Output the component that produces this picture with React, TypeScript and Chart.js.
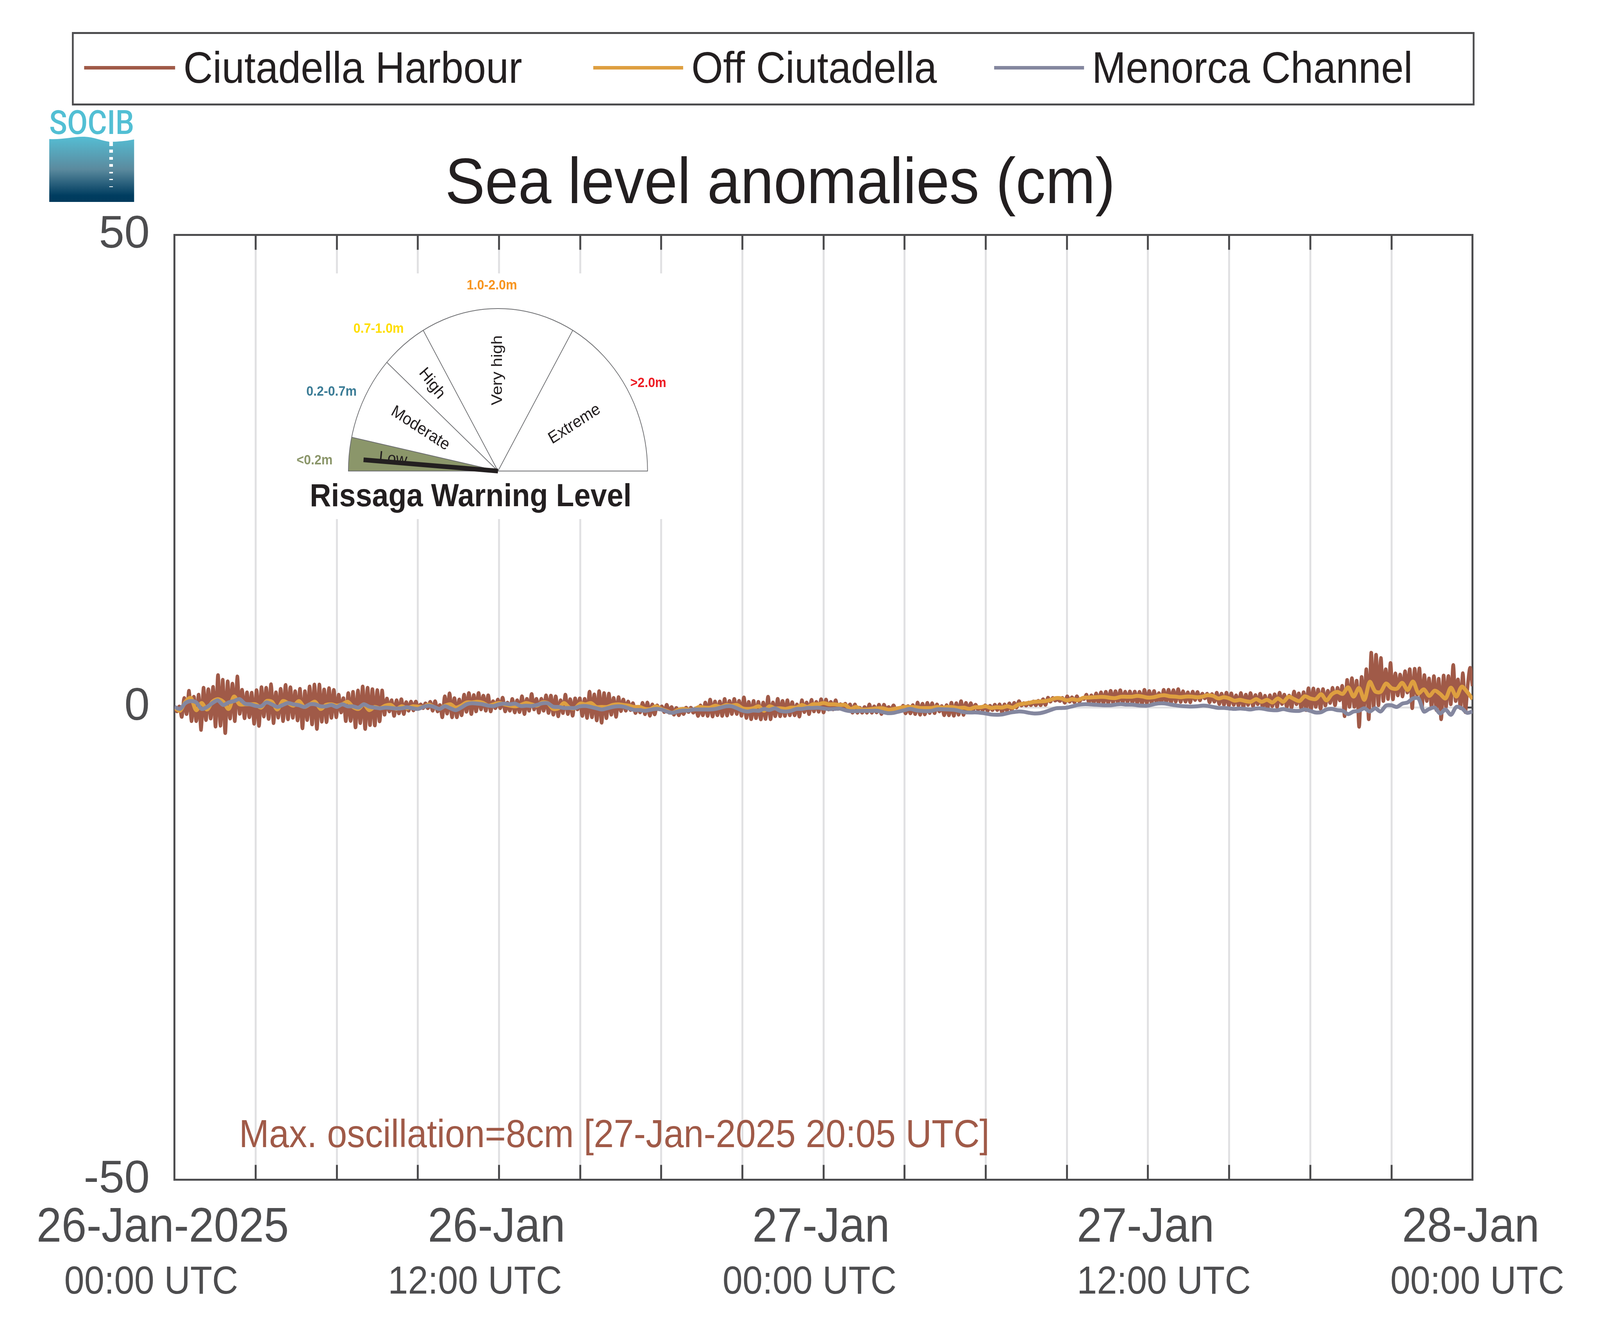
import { useEffect, useRef } from "react";
import { Chart, registerables } from "chart.js";

Chart.register(...registerables);

// hours since 26-Jan-2025 00:00 UTC
const timeTicks = [0, 12, 24, 36, 48];
const dateLabels = ["26-Jan-2025", "26-Jan", "27-Jan", "27-Jan", "28-Jan"];
const hourLabels = ["00:00 UTC", "12:00 UTC", "00:00 UTC", "12:00 UTC", "00:00 UTC"];
const seriesNames = ["Ciutadella Harbour", "Off Ciutadella", "Menorca Channel"];
const seriesColors = ["#a05a48", "#de9f40", "#84879f"];

// crests and troughs of the harbour oscillation, cm
const harbourPeaks = [
  0.1, 0.1, 1.0, 1.76, 1.14, 1.35, 2.08, 1.93, 2.18, 3.42, 2.93, 2.75, 2.52, 3.28, 1.87, 1.6, 1.56, 1.83, 2.14, 2.08, 2.45, 1.6, 1.97, 2.38, 2.14, 1.72, 1.97, 1.72, 2.22, 2.42, 2.42, 1.9, 2.04, 1.86, 1.35, 0.98, 1.52, 1.65, 1.79, 2.22, 2.08, 1.93, 1.83, 1.8, 0.94, 0.76, 0.76, 0.87, 0.56, 0.62, 0.62, 0.32, 0.43, 0.59, 0.66, 0.25, 1.17, 1.49, 0.98, 0.84, 1.35, 1.52, 1.31, 1.52, 1.25, 1.28, 0.66, 0.84, 1.03, 0.52, 0.9, 0.76, 1.18, 0.91,
  1.42, 0.91, 0.91, 1.28, 1.25, 1.17, 0.76, 1.35, 0.87, 0.96, 0.96, 0.91, 1.67, 1.38, 1.72, 1.52, 1.46, 1.01, 1.09, 0.84, 0.63, 0.45, 0.04, 0.48, 0.52, 0.32, 0.21, 0.11, 0.28, 0.04, -0.05, -0.19, -0.03, -0.03, -0.1, 0.22, 0.52, 0.83, 0.63, 0.63, 0.9, 0.69, 0.9, 0.7, 1.06, 0.59, 0.69, 0.59, 0.52, 1.14, 0.52, 0.91, 0.69, 0.76, 0.56, 0.32, 0.76, 0.52, 0.8, 0.59, 0.87, 0.83, 0.59, 0.76, 0.34, 0.39, 0.32, 0.32, -0.03, 0.04, 0.32, 0.11, 0.29, 0.28, 0.04,
  0.22, -0.07, 0.18, 0.14, 0.25, 0.52, 0.39, 0.48, 0.45, 0.32, 0.14, 0.25, 0.5, 0.45, 0.66, 0.48, 0.45, 0.29, 0.04, 0.22, 0.18, 0.29, 0.32, 0.32, 0.43, 0.48, 0.66, 0.45, 0.52, 0.63, 0.7, 0.87, 1.03, 1.01, 0.87, 1.01, 1.17, 1.07, 1.18, 0.94, 1.35, 1.28, 1.49, 1.6, 1.65, 1.76, 1.72, 1.82, 1.67, 1.69, 1.67, 1.65, 1.86, 1.74, 1.74, 1.52, 1.86, 1.87, 1.83, 1.93, 1.72, 1.6, 1.67, 1.63, 1.45, 1.45, 1.42, 1.56, 1.46, 1.56, 1.49, 1.28, 1.52,
  1.35, 1.52, 1.31, 1.45, 1.24, 1.28, 1.39, 1.56, 1.35, 1.25, 1.68, 1.49, 1.61, 2.04, 2.01, 1.9, 1.94, 1.76, 2.07, 2.07, 2.27, 2.91, 3.1, 2.82, 3.21, 4.04, 5.79, 5.58, 5.23, 4.04, 4.7, 3.6, 3.48, 3.83, 4.04, 4.08, 4.13, 3.42, 3.07, 3.31, 3.03, 3.37, 3.32, 4.49, 2.96, 3.62, 2.31, 4.2, 2.25,
];
const harbourTroughs = [
  -0.44, -1.02, -0.72, -1.47, -1.47, -2.4, -1.36, -1.2, -2.05, -1.96, -2.74, -1.2, -1.47, -0.69, -1.17, -1.06, -1.75, -1.98, -0.99, -1.24, -1.68, -1.1, -1.47, -1.28, -1.12, -1.4, -2.23, -1.36, -1.82, -2.3, -1.53, -1.58, -1.12, -1.06, -0.55, -1.47, -1.45, -2.13, -1.68, -2.3, -1.89, -1.93, -1.5, -0.79, -0.44, -0.92, -0.65, -0.72, -0.37, -0.34, -0.17, -0.1, -0.1, -0.37, -0.44, -1.06, -0.67, -1.06, -1.06, -0.85, -0.48, -0.72, -0.44, -0.23, -0.37, -0.44, -0.1, -0.1, -0.44, -0.37, -0.55, -0.51, -0.72,
  -0.37, -0.23, -0.58, -0.37, -0.61, -0.79, -0.96, -0.62, -0.72, -0.9, -0.23, -0.92, -1.13, -1.06, -1.4, -1.64, -1.16, -0.79, -1.02, -0.41, -0.37, -0.3, -0.61, -0.54, -0.74, -0.9, -0.76, -0.23, -0.51, -0.58, -0.79, -0.85, -0.72, -0.51, -0.58, -0.92, -0.85, -0.92, -0.98, -0.85, -0.92, -0.88, -0.72, -0.72, -0.9, -1.13, -1.27, -1.16, -1.29, -1.24, -1.27, -0.95, -0.95, -0.92, -0.85, -0.85, -0.99, -0.51, -0.73, -0.44, -0.48, -0.55, -0.23, -0.23, -0.17, -0.23, -0.23, -0.58, -0.58, -0.58, -0.58, -0.58, -0.55, -0.72,
  -0.23, -0.3, -0.3, -0.37, -0.65, -0.65, -0.72, -0.79, -0.76, -0.62, -0.62, -0.44, -0.85, -0.85, -0.9, -0.79, -0.81, -0.51, -0.3, -0.26, -0.3, -0.37, -0.3, -0.3, -0.54, -0.37, -0.3, -0.03, 0.18, 0.18, 0.22, 0.21, 0.22, 0.25, 0.59, 0.7, 0.66, 0.48, 0.59, 0.52, 0.59, 0.87, 0.52, 0.48, 0.45, 0.43, 0.43, 0.48, 0.48, 0.48, 0.56, 0.45, 0.45, 0.32, 0.41, 0.45, 0.52, 0.52, 0.52, 0.48, 0.59, 0.56, 0.59, 0.52, 0.76, 0.73, 0.94, 0.52, 0.59, 0.34, 0.25, 0.18, 0.25,
  0.18, -0.03, 0.25, 0.11, 0.32, -0.03, -0.17, 0.11, 0.04, 0.34, 0.04, -0.03, 0.32, -0.1, -0.3, -0.3, 0.04, -0.17, 0.18, 0.45, 0.21, 0.73, -0.95, 0.04, 0.04, -2.07, -0.1, -1.27, 0.04, 0.21, 0.66, 0.87, 0.84, 1.25, 1.14, 1.56, -0.1, 1.28, -0.1, 0.66, 0.04, -0.3, -1.27, 0.04, 0.32, 0.66, -0.1, -0.51,
];
// one reading every 0.2 h, cm
const offCiutadellaValues = [
  -0.03, -0.37, 0.59, 1.0, -0.3, 0.45, -0.23, 0.59, 0.87, 0.59, -0.17, 1.14, 0.32, 0.32, 0.32, 0.32, -0.03, 0.66, 0.59, -0.23, 0.66, 0.45, 0.18, 0.66, 0.04, 0.32, 0.59, -0.17, 0.25, 0.32, 0.18, 0.32, 0.59, 0.04, -0.17, 0.32, -0.3, 0.04, -0.1, 0.18, 0.25, -0.17, 0.11, -0.1, 0.11, 0.07, 0.04, 0.29, 0.04, -0.17, 0.18, 0.32, -0.03, 0.18, 0.52, 0.52, 0.59, 0.48, 0.18, 0.32, 0.45, 0.32, 0.18, 0.11, 0.25,
  0.45, 0.32, 0.18, 0.52, 0.45, -0.17, -0.1, 0.45, -0.03, -0.1, 0.39, 0.32, 0.45, 0.04, 0.04, 0.04, 0.25, 0.32, 0.25, 0.18, 0.04, 0.04, -0.17, -0.17, 0.11, -0.17, -0.37, -0.58, -0.3, -0.17, -0.23, -0.23, 0.04, -0.03, -0.03, 0.18, 0.04, 0.25, 0.18, 0.25, -0.1, -0.17, -0.1, 0.11, -0.37, 0.11, -0.1, -0.1, -0.17, -0.03, -0.03, 0.25, 0.04, 0.32, 0.32, 0.45, 0.32, 0.32, 0.25, 0.25, -0.17, 0.04, -0.23, -0.23, -0.17, -0.1,
  -0.1, -0.26, -0.17, -0.07, 0.04, 0.04, 0.01, -0.07, -0.07, -0.07, 0.04, -0.03, 0.04, 0.01, -0.07, -0.03, -0.17, 0.01, 0.01, 0.11, -0.07, 0.01, -0.03, 0.11, -0.03, 0.29, 0.39, 0.48, 0.59, 0.62, 0.66, 0.8, 0.98, 0.94, 0.73, 0.87, 0.76, 1.01, 1.03, 1.07, 1.1, 1.1, 1.01, 0.98, 1.12, 1.12, 1.12, 1.21, 1.14, 1.03, 1.07, 1.21, 1.28, 1.17, 1.14, 1.07, 1.14, 1.14, 1.07, 1.12, 1.28, 1.21, 0.94, 1.07, 0.94, 0.7, 0.8,
  0.66, 0.59, 0.87, 0.59, 0.8, 0.52, 0.94, 0.59, 1.12, 0.87, 0.66, 1.17, 0.94, 0.87, 1.39, 0.73, 1.39, 1.63, 1.42, 2.11, 1.14, 2.04, 0.8, 2.69, 1.69, 1.63, 2.52, 2.04, 1.97, 2.59, 1.83, 2.73, 1.49, 1.9, 1.21, 1.76, 1.42, 0.94, 2.08, 1.14, 2.18, 1.63, 0.87,
];
const menorcaValues = [
  0.04, -0.17, 0.45, 0.66, 0.52, -0.17, 0.04, 0.45, 0.73, 0.25, 0.52, 0.66, 0.87, 0.39, 0.32, 0.15, 0.11, 0.52, 0.32, 0.04, 0.25, 0.45, 0.32, 0.22, 0.04, 0.32, 0.32, 0.11, 0.11, 0.25, 0.04, 0.32, 0.11, 0.11, -0.03, 0.32, 0.07, -0.03, -0.1, -0.03, -0.07, -0.12, -0.1, 0, -0.1, -0.17, 0.04, 0.18, 0.04, -0.17, 0.11, -0.1, -0.3, -0.03, 0.32, 0.43, 0.39, 0.32, 0.18, 0.14, 0.32, 0.39, 0.32, 0.39, 0.14,
  0.18, 0.14, 0.25, 0.43, 0.43, 0.07, 0.04, -0.07, -0.07, -0.07, 0.11, 0.14, 0.04, -0.1, -0.23, -0.1, 0.04, 0.11, 0.07, -0.1, -0.28, -0.28, -0.37, -0.26, -0.17, -0.23, -0.44, -0.58, -0.44, -0.34, -0.34, -0.23, -0.23, -0.23, -0.23, -0.17, -0.03, 0.11, 0.11, -0.1, -0.34, -0.44, -0.34, -0.37, -0.17, -0.28, -0.1, -0.37, -0.44, -0.37, -0.17, -0.17, -0.07, -0.07, -0.04, -0.12, -0.19, -0.17, -0.14, -0.3, -0.4, -0.4, -0.37, -0.37, -0.37, -0.37,
  -0.51, -0.62, -0.58, -0.44, -0.3, -0.17, -0.3, -0.37, -0.4, -0.37, -0.21, -0.21, -0.23, -0.26, -0.37, -0.51, -0.55, -0.54, -0.58, -0.65, -0.76, -0.79, -0.76, -0.62, -0.51, -0.44, -0.47, -0.58, -0.65, -0.62, -0.48, -0.28, -0.1, -0.07, -0.03, 0.11, 0.25, 0.32, 0.32, 0.28, 0.25, 0.22, 0.22, 0.29, 0.34, 0.29, 0.29, 0.22, 0.18, 0.18, 0.32, 0.41, 0.41, 0.32, 0.22, 0.15, 0.11, 0.08, 0.11, 0.18, 0.15, 0.04, -0.06, -0.06, -0.12, -0.17, -0.12,
  -0.17, -0.23, -0.12, -0.12, -0.23, -0.3, -0.3, -0.19, -0.3, -0.37, -0.37, -0.23, -0.37, -0.55, -0.51, -0.23, -0.17, -0.3, -0.37, -0.72, -0.44, -0.37, -0.1, -0.44, -0.1, -0.44, 0.18, 0.22, 0.04, 0.39, 0.52, 0.94, 0.94, -0.44, -0.17, -0.03, -0.65, -0.23, -0.79, 0.04, -0.1, -0.58, -0.44,
];

// warning gauge: sector limits in degrees from the left, current needle reading
const gaugeLimits = [0, 12, 42, 60, 120, 180];
const gaugeNeedle = 4.4;
const maxOscillation = "Max. oscillation=8cm [27-Jan-2025 20:05 UTC]";

const SANS = '"Liberation Sans", Arial, sans-serif';
const INK = "#231f20";
const AXIS = "#4d4d4f";
const SPAN = 48;
const DESIGN_W = 4450; // the layout below is in reference pixels, squeezed to fit the window

const byIndex = (values: number[]) =>
  values.map((y, i) => ({ x: (i * SPAN) / (values.length - 1), y }));

const harbourSeries = harbourPeaks.flatMap((p, i) =>
  harbourTroughs[i] === undefined ? [p] : [p, harbourTroughs[i]],
);

const put = (ctx: CanvasRenderingContext2D, text: string, x: number, y: number, font: string, color: string, align: CanvasTextAlign = "left") => {
  ctx.font = font;
  ctx.fillStyle = color;
  ctx.textAlign = align;
  ctx.textBaseline = "alphabetic";
  ctx.fillText(text, x, y);
};

const tilted = (ctx: CanvasRenderingContext2D, text: string, x: number, y: number, deg: number) => {
  ctx.save();
  ctx.translate(x, y);
  ctx.rotate((deg * Math.PI) / 180);
  ctx.font = `43px ${SANS}`;
  ctx.fillStyle = INK;
  ctx.textAlign = "center";
  ctx.textBaseline = "middle";
  ctx.fillText(text, 0, 0);
  ctx.restore();
};

const drawLegend = (ctx: CanvasRenderingContext2D) => {
  ctx.strokeStyle = AXIS;
  ctx.lineWidth = 5;
  ctx.strokeRect(202.5, 84.5, 3896, 183);
  const lines = [[234, 487, 510], [1650, 1900, 1923], [2765, 3015, 3037]];
  lines.forEach(([a, b, tx], i) => {
    ctx.fillStyle = seriesColors[i];
    ctx.fillRect(a, 169, b - a, 9);
    put(ctx, seriesNames[i], tx, 212, `113px ${SANS}`, INK);
  });
};

const drawLogo = (ctx: CanvasRenderingContext2D) => {
  ctx.font = "500 86px Roboto";
  ctx.fillStyle = "#52bfd4";
  ctx.textAlign = "left";
  ctx.textBaseline = "alphabetic";
  ctx.fillText("SOCIB", 137, 343, 236);
  const g = ctx.createLinearGradient(0, 350, 0, 517);
  g.addColorStop(0, "#55bdd3");
  g.addColorStop(0.5, "#5b8a9e");
  g.addColorStop(0.9, "#003d60");
  g.addColorStop(1, "#003a5c");
  ctx.fillStyle = g;
  ctx.beginPath();
  ctx.moveTo(137, 356);
  ctx.bezierCurveTo(175, 358, 205, 349, 235, 350);
  ctx.bezierCurveTo(262, 351, 280, 360, 304, 363);
  ctx.quadraticCurveTo(340, 363, 373, 357);
  ctx.lineTo(373, 517);
  ctx.lineTo(137, 517);
  ctx.closePath();
  ctx.fill();
  ctx.fillStyle = "#ffffff";
  [[363, 11], [383, 8], [402, 7], [420, 7], [440, 4], [458, 3], [477, 2]].forEach(([y, h]) => ctx.fillRect(304, y, 10, h));
};

const drawGauge = (ctx: CanvasRenderingContext2D) => {
  const cx = 1385;
  const cy = 1206;
  const r = 416;
  const rad = (d: number) => (d * Math.PI) / 180;

  ctx.fillStyle = "#ffffff";
  ctx.fillRect(798, 700, 1076, 629);

  ctx.fillStyle = "#8b966a";
  ctx.beginPath();
  ctx.moveTo(cx, cy);
  ctx.arc(cx, cy, r, Math.PI, Math.PI + rad(gaugeLimits[1]));
  ctx.closePath();
  ctx.fill();

  ctx.strokeStyle = "#6d6e71";
  ctx.lineWidth = 2;
  ctx.beginPath();
  ctx.arc(cx, cy, r, Math.PI, 2 * Math.PI);
  ctx.closePath();
  ctx.stroke();
  gaugeLimits.slice(1, -1).forEach((d) => {
    ctx.beginPath();
    ctx.moveTo(cx, cy);
    ctx.lineTo(cx - r * Math.cos(rad(d)), cy - r * Math.sin(rad(d)));
    ctx.stroke();
  });

  tilted(ctx, "Low", 1093, 1176, 6);
  tilted(ctx, "Moderate", 1169, 1097, 31);
  tilted(ctx, "High", 1201, 982, 51);
  tilted(ctx, "Very high", 1384, 948, -90);
  tilted(ctx, "Extreme", 1598, 1086, -31);

  ctx.strokeStyle = INK;
  ctx.lineWidth = 12;
  ctx.beginPath();
  ctx.moveTo(cx, cy);
  ctx.lineTo(cx - 375 * Math.cos(rad(gaugeNeedle)), cy - 375 * Math.sin(rad(gaugeNeedle)));
  ctx.stroke();

  const bold = `bold 35px ${SANS}`;
  put(ctx, "<0.2m", 875, 1189, bold, "#8b966a", "center");
  put(ctx, "0.2-0.7m", 922, 1013, bold, "#3b7c96", "center");
  put(ctx, "0.7-1.0m", 1053, 852, bold, "#ffde00", "center");
  put(ctx, "1.0-2.0m", 1368, 741, bold, "#f7941d", "center");
  put(ctx, ">2.0m", 1803, 991, bold, "#ed1c24", "center");
  put(ctx, "Rissaga Warning Level", 1309, 1296, `bold 82px ${SANS}`, INK, "center");
};

const overlay = {
  id: "overlay",
  beforeDraw(chart: Chart) {
    const { ctx, width, height } = chart;
    ctx.save();
    ctx.fillStyle = "#ffffff";
    ctx.fillRect(0, 0, width, height);
    ctx.restore();
  },
  afterDraw(chart: Chart) {
    const { ctx, width } = chart;
    const k = width / DESIGN_W;
    const x = chart.scales.x;
    ctx.save();
    ctx.scale(k, 1);
    drawLegend(ctx);
    drawLogo(ctx);
    put(ctx, "Sea level anomalies (cm)", 1238, 520, `166px ${SANS}`, INK);
    drawGauge(ctx);
    put(ctx, maxOscillation, 665, 2937, `100px ${SANS}`, seriesColors[0]);
    const dateShift = [-33, -7, -7, -7, -5];
    const hourShift = [-65, -67, -39, 44, 13];
    timeTicks.forEach((t, i) => {
      const px = x.getPixelForValue(t) / k;
      put(ctx, dateLabels[i], px + dateShift[i], 3179, `125px ${SANS}`, AXIS, "center");
      put(ctx, hourLabels[i], px + hourShift[i], 3312, `100px ${SANS}`, AXIS, "center");
    });
    ctx.restore();
  },
};

const frame = { color: AXIS, width: 5 };
const tickMarks = { drawTicks: true, tickLength: -38, tickColor: AXIS, tickWidth: 5 };

export default function App() {
  const ref = useRef<HTMLCanvasElement | null>(null);

  useEffect(() => {
    if (!ref.current) return;
    document.body.style.margin = "0";
    // the window can be narrower than the reference, so everything is fitted to it
    const W = Math.min(window.innerWidth, DESIGN_W);
    const k = W / DESIGN_W;
    ref.current.width = W;
    ref.current.height = 3395;
    const line = (i: number, data: { x: number; y: number }[], width: number) => ({
      label: seriesNames[i],
      data,
      borderColor: seriesColors[i],
      backgroundColor: seriesColors[i],
      borderWidth: width,
      pointRadius: 0,
      tension: 0.3,
      borderJoinStyle: "round" as const,
      order: 3 - i,
    });
    const chart = new Chart(ref.current, {
      type: "line",
      data: {
        datasets: [
          line(0, byIndex(harbourSeries), 9),
          line(1, byIndex(offCiutadellaValues), 10),
          line(2, byIndex(menorcaValues), 10),
        ],
      },
      plugins: [overlay],
      options: {
        animation: false,
        responsive: false,
        devicePixelRatio: 1,
        events: [],
        layout: { padding: { top: 601.5, right: W - 4095.5 * k, left: 0, bottom: 0 } },
        plugins: { legend: { display: false }, title: { display: false }, tooltip: { enabled: false } },
        scales: {
          x: {
            type: "linear",
            position: "bottom",
            min: 0,
            max: SPAN,
            afterFit: (s: any) => { s.height = 374.5; },
            ticks: { stepSize: 3, display: false },
            grid: { color: "#e1e1e3", lineWidth: 5, ...tickMarks },
            border: frame,
          },
          xTop: {
            type: "linear",
            axis: "x",
            position: "top",
            min: 0,
            max: SPAN,
            afterFit: (s: any) => { s.height = 0; },
            ticks: { stepSize: 3, display: false },
            grid: { drawOnChartArea: false, ...tickMarks },
            border: frame,
          },
          y: {
            type: "linear",
            position: "left",
            min: -50,
            max: 50,
            afterFit: (s: any) => { s.width = 485.5 * k; },
            ticks: { stepSize: 50, padding: 69 * k + 38, color: AXIS, font: { family: SANS, size: 117 } },
            grid: { color: "#e1e1e3", lineWidth: 5, ...tickMarks },
            border: frame,
          },
          yRight: {
            type: "linear",
            axis: "y",
            position: "right",
            min: -50,
            max: 50,
            afterFit: (s: any) => { s.width = 0; },
            ticks: { stepSize: 50, display: false },
            grid: { drawOnChartArea: false, ...tickMarks },
            border: frame,
          },
        },
      },
    } as any);
    return () => chart.destroy();
  }, []);

  return <canvas ref={ref} style={{ display: "block", position: "absolute", left: 0, top: 0 }} />;
}
